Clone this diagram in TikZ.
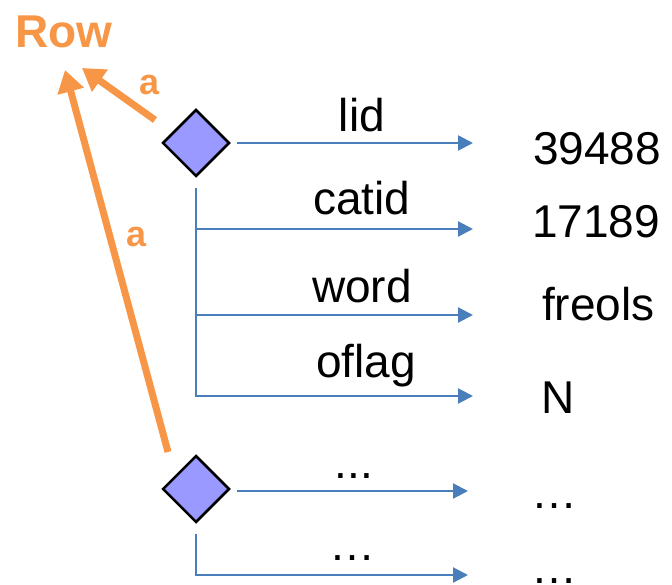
\documentclass[tikz,border=0pt]{standalone}
\usepackage{fontspec}
\setmainfont{Liberation Sans}
\usetikzlibrary{arrows.meta,shapes}
\tikzset {>=Stealth}
\definecolor{roworange}{RGB}{247,150,70}
\definecolor{linkblue}{RGB}{74,126,187}
\definecolor{nodeblue}{RGB}{153,153,255}
\tikzset{
  elem/.style={diamond,draw=black,line width=2.5pt,fill=nodeblue,minimum width=67pt,minimum height=67pt,inner sep=0pt},
  link/.style={draw=linkblue,line width=2.2pt,-{Triangle[length=15pt,width=15pt]}},
  attr/.style={draw=roworange,line width=7pt,-{Triangle[length=22pt,width=26pt]}},
  lbl/.style={font=\fontsize{46}{50}\selectfont,anchor=base,inner sep=0pt},
  val/.style={font=\fontsize{46}{50}\selectfont,anchor=base west,inner sep=0pt},
  albl/.style={text=roworange,font=\bfseries\fontsize{36}{40}\selectfont,anchor=base,inner sep=0pt}
}

\begin{document}
\begin{tikzpicture}[x=1pt,y=-1pt]
\useasboundingbox (0,0) rectangle (672,585);
\node[elem] (d1) at (196,143) {};
\node[elem] (d2) at (196,489) {};
\node[albl,font=\bfseries\fontsize{46}{50}\selectfont] (row) at (64,48) {Row};

\coordinate (t1) at (473,143);
\coordinate (t2) at (473,229);
\coordinate (t3) at (473,315);
\coordinate (t4) at (473,396);
\coordinate (t5) at (468,491);
\coordinate (t6) at (468,575);

\draw[link] ([xshift=6pt]d1.east) -- (t1);
\draw[link] ([yshift=-10pt]d1.south) |- (t4);
\draw[link] (d1.south |- t2) -- (t2);
\draw[link] (d1.south |- t3) -- (t3);
\draw[link] ([xshift=6pt]d2.east |- t5) -- (t5);
\draw[link] ([yshift=-10pt]d2.south) |- (t6);

\node[lbl] (f1) at (362,132) {lid};
\node[lbl] (f2) at (362,215) {catid};
\node[lbl] (f3) at (362,302) {word};
\node[lbl] (f4) at (366,377) {oflag};
\node[lbl] (f5) at (354,478) {...};
\node[lbl] (f6) at (352,560) {…};

\node[val] (v1) at (533,165) {39488};
\node[val] (v2) at (532,238) {17189};
\node[val] (v3) at (542,320) {freols};
\node[val] (v4) at (541,413) {N};
\node[val] (v5) at (531,508) {…};
\node[val] (v6) at (531,583) {…};

% attribute arrows up to Row
\coordinate (a1) at (155,120);
\coordinate (r1) at (82,68);
\coordinate (a2) at (168,452);
\coordinate (r2) at (65,70);
\draw[attr] (a1) -- (r1);
\draw[attr] (a2) -- (r2);
\node[albl] (l1) at (150,95) {a};
\node[albl] (l2) at (137,247) {a};
\end{tikzpicture}
\end{document}
